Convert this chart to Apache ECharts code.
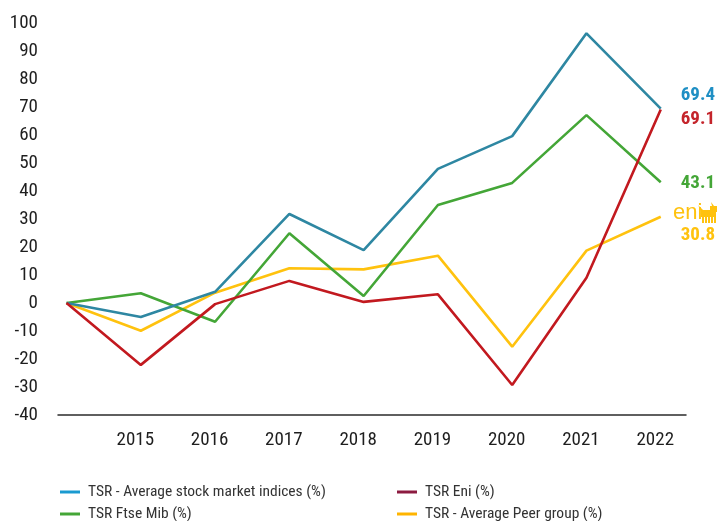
<!DOCTYPE html>
<html>
<head>
<meta charset="utf-8">
<script src="https://cdn.jsdelivr.net/npm/echarts@6/dist/echarts.min.js"></script>
<style>
  html, body { margin: 0; padding: 0; background: #fff; }
  #chart { width: 720px; height: 521px; }
</style>
</head>
<body>
<div id="chart"></div>
<script>
// Years on the x axis (the first point is the 2014 base, left unlabeled)
const years = ['2014', '2015', '2016', '2017', '2018', '2019', '2020', '2021', '2022'];
const yearLabels = ['', '2015', '2016', '2017', '2018', '2019', '2020', '2021', '2022'];

// Total shareholder return series (%)
const tsrIndices = [0, -5.0, 4.0, 31.8, 18.9, 47.9, 59.6, 96.3, 69.4];
const tsrFtseMib = [0, 3.5, -6.7, 24.9, 2.5, 35.0, 42.9, 67.1, 43.1];
const tsrEni     = [0, -22.1, -0.4, 7.9, 0.4, 3.1, -29.3, 9.0, 69.1];
const tsrPeers   = [0, -9.9, 3.7, 12.4, 12.0, 16.9, -15.6, 18.7, 30.8];

const yTicks = { min: -40, max: 100, step: 10 };

const FONT = "'Roboto Condensed', 'Liberation Sans Narrow', 'Arial Narrow', Roboto, sans-serif";

const names = {
  indices: 'TSR - Average stock market indices (%)',
  eni: 'TSR Eni (%)',
  ftse: 'TSR Ftse Mib (%)',
  peers: 'TSR - Average Peer group (%)'
};

function pairs(arr) { return arr.map((v, i) => [i, v]); }

function lineSeries(name, arr, color, labelColor, offset) {
  return {
    name: name,
    type: 'line',
    data: pairs(arr),
    symbol: 'none',
    lineStyle: { color: color, width: 2.6 },
    itemStyle: { color: color },
    z: 2,
    endLabel: {
      show: true,
      offset: offset,
      color: labelColor,
      fontFamily: FONT,
      fontWeight: 'bold',
      fontSize: 19,
      formatter: p => p.value[1].toFixed(1)
    }
  };
}

// one single-item legend per slot, laid out as a 2x2 block
function legendItem(name, color, left, top) {
  return {
    orient: 'horizontal',
    left: left,
    top: top,
    padding: 0,
    itemWidth: 20,
    itemHeight: 3,
    icon: 'rect',
    textStyle: { fontFamily: FONT, fontSize: 15.5, color: '#333', padding: [0, 0, 0, 3] },
    data: [{ name: name, itemStyle: { color: color } }]
  };
}

const chart = echarts.init(document.getElementById('chart'), null, { renderer: 'canvas' });

chart.setOption({
  backgroundColor: '#ffffff',
  animation: false,
  grid: { left: 58, right: 34, top: 23, bottom: 106, containLabel: false },
  xAxis: {
    type: 'value',
    min: -0.115,
    max: 8.34,
    axisLine: { show: true, onZero: false, lineStyle: { color: '#2b2b2b', width: 1.5 } },
    axisTick: { show: false },
    splitLine: { show: false },
    axisLabel: {
      customValues: [1, 2, 3, 4, 5, 6, 7, 8],
      formatter: v => yearLabels[Math.round(v)],
      color: '#1e1e1e',
      fontFamily: FONT,
      fontSize: 19,
      margin: 16,
      padding: [0, 11, 0, 0]
    }
  },
  yAxis: {
    type: 'value',
    min: yTicks.min,
    max: yTicks.max,
    interval: yTicks.step,
    axisLine: { show: false },
    axisTick: { show: false },
    splitLine: { show: false },
    axisLabel: {
      color: '#1e1e1e',
      fontFamily: FONT,
      fontSize: 19,
      margin: 20
    }
  },
  legend: [
    legendItem(names.indices, '#1a9ad0', 60, 484),
    legendItem(names.ftse, '#44a637', 60, 506),
    legendItem(names.eni, '#8c1b40', 397, 484),
    legendItem(names.peers, '#ffb400', 397, 506)
  ],
  series: [
    lineSeries(names.peers, tsrPeers, '#ffc20e', '#ffc20e', [12, 18]),
    lineSeries(names.ftse, tsrFtseMib, '#44a637', '#44a637', [12, 1]),
    lineSeries(names.indices, tsrIndices, '#2e87a2', '#1f8fc4', [12, -13]),
    lineSeries(names.eni, tsrEni, '#c2191f', '#c4242b', [12, 10])
  ],
  graphic: [
    {
      // eni wordmark with the six-legged dog
      type: 'group',
      left: 673,
      top: 202,
      children: [
        {
          type: 'text',
          x: 0, y: 0,
          style: { text: 'eni', fill: '#ffc20e', font: "22px 'Liberation Sans', Arial, sans-serif" }
        },
        { type: 'rect', shape: { x: 28, y: 8, width: 15, height: 7 }, style: { fill: '#ffc20e' } },
        { type: 'rect', shape: { x: 37, y: 4, width: 7, height: 6 }, style: { fill: '#ffc20e' } },
        { type: 'rect', shape: { x: 29, y: 15, width: 2, height: 6 }, style: { fill: '#ffc20e' } },
        { type: 'rect', shape: { x: 32, y: 15, width: 2, height: 6 }, style: { fill: '#ffc20e' } },
        { type: 'rect', shape: { x: 35, y: 15, width: 2, height: 6 }, style: { fill: '#ffc20e' } },
        { type: 'rect', shape: { x: 38, y: 15, width: 2, height: 6 }, style: { fill: '#ffc20e' } },
        { type: 'rect', shape: { x: 41, y: 15, width: 2, height: 6 }, style: { fill: '#ffc20e' } },
        { type: 'polygon', shape: { points: [[28, 9], [25, 3], [30, 8]] }, style: { fill: '#ffc20e' } },
        { type: 'polygon', shape: { points: [[39, 4], [38, 0], [41, 4]] }, style: { fill: '#ffc20e' } }
      ]
    }
  ]
});
</script>
</body>
</html>
